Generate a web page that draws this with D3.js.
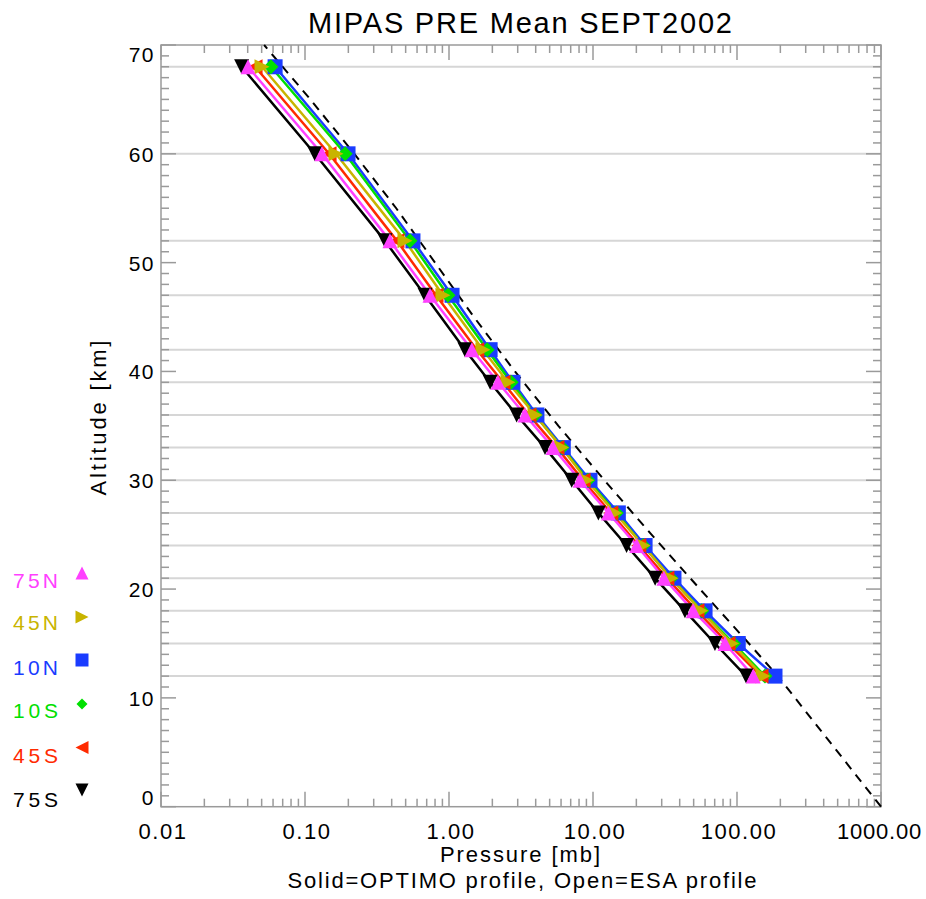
<!DOCTYPE html>
<html><head><meta charset="utf-8">
<script src="https://cdn.jsdelivr.net/npm/d3@7"></script>
<style>body{margin:0;background:#fff;} svg{display:block;font-family:"Liberation Sans",Arial,sans-serif;}</style>
</head><body>
<svg id="c" width="926" height="899"></svg>
<script>
const altitudes = [68, 60, 52, 47, 42, 39, 36, 33, 30, 27, 24, 21, 18, 15, 12];
const p75N = [0.0402, 0.131, 0.389, 0.738, 1.44, 2.19, 3.37, 5.28, 8.13, 12.8, 20.1, 31.1, 49.7, 82.6, 129.7];
const p45N = [0.0503, 0.164, 0.495, 0.908, 1.72, 2.57, 3.96, 6.06, 9.04, 14.2, 22.3, 34.8, 56.2, 91.9, 151.6];
const p10N = [0.062, 0.199, 0.562, 1.05, 1.93, 2.78, 4.08, 6.22, 9.53, 15.0, 23.0, 36.5, 60.0, 102, 183.6];
const p10S = [0.058, 0.19, 0.536, 0.984, 1.84, 2.70, 3.96, 6.1, 9.2, 14.5, 22.3, 34.8, 56.9, 94.5, 156.4];
const p45S = [0.045, 0.147, 0.435, 0.812, 1.56, 2.37, 3.59, 5.62, 8.53, 13.3, 20.8, 32.6, 52.7, 86.7, 146.8];
const p75S = [0.0363, 0.117, 0.359, 0.681, 1.29, 1.93, 2.95, 4.64, 7.11, 10.9, 17.1, 27.0, 43.5, 70.3, 115.6];
const refAlt = [0, 12, 15, 20, 25, 30, 35, 40, 45, 50, 55, 60, 65, 70];
const refPres = [1000, 192, 121, 55.3, 25.5, 12.0, 5.75, 2.87, 1.49, 0.80, 0.43, 0.22, 0.109, 0.052];
const xTickLabels = ["0.01", "0.10", "1.00", "10.00", "100.00", "1000.00"];
const xTickValues = [0.01, 0.1, 1, 10, 100, 1000];
const yTickValues = [0, 10, 20, 30, 40, 50, 60, 70];
const seriesNames = ["75N", "45N", "10N", "10S", "45S", "75S"];

const series = [
  {name: "10N", vals: p10N, color: "#1a3cff", sym: "square"},
  {name: "10S", vals: p10S, color: "#00e000", sym: "diamond"},
  {name: "45S", vals: p45S, color: "#ff2a00", sym: "left"},
  {name: "75S", vals: p75S, color: "#000000", sym: "down"},
  {name: "45N", vals: p45N, color: "#c8b400", sym: "right"},
  {name: "75N", vals: p75N, color: "#ff40ff", sym: "up"}
];
const colorOf = {"75N":"#ff40ff","45N":"#c8b400","10N":"#1a3cff","10S":"#00e000","45S":"#ff2a00","75S":"#000000"};
const symOf = {"75N":"up","45N":"right","10N":"square","10S":"diamond","45S":"left","75S":"down"};

const svg = d3.select("#c");
const L = 161, R = 881, T = 45, B = 806.7;
const x = d3.scaleLog().domain([0.01, 1000]).range([L, R]);
const y = d3.scaleLinear().domain([0, 70]).range([B, T]);

function symPath(type, s) {
  const h = s / 2;
  switch (type) {
    case "square": return `M${-h},${-h}H${h}V${h}H${-h}Z`;
    case "diamond": return `M0,${-h}L${h},0L0,${h}L${-h},0Z`;
    case "up": return `M0,${-h}L${h},${h}L${-h},${h}Z`;
    case "down": return `M0,${h}L${h},${-h}L${-h},${-h}Z`;
    case "right": return `M${h},0L${-h},${-h}L${-h},${h}Z`;
    case "left": return `M${-h},0L${h},${-h}L${h},${h}Z`;
  }
}

// grid lines at profile levels
svg.append("g").selectAll("line").data(altitudes).join("line")
  .attr("x1", L).attr("x2", R).attr("y1", d => y(d)).attr("y2", d => y(d))
  .attr("stroke", "#d6d6d6").attr("stroke-width", 2);

// axes frame
const axisColor = "#9a9a9a";
svg.append("rect").attr("x", L).attr("y", T).attr("width", R - L).attr("height", B - T)
  .attr("fill", "none").attr("stroke", axisColor).attr("stroke-width", 1.5);

// x ticks (bottom + top)
const xMinor = [];
for (let e = -2; e < 3; e++) for (let m = 2; m <= 9; m++) xMinor.push(m * Math.pow(10, e));
const gx = svg.append("g");
[["b", B, -1], ["t", T, 1]].forEach(([k, base, dir]) => {
  gx.append("g").selectAll("line").data(xTickValues).join("line")
    .attr("x1", d => x(d)).attr("x2", d => x(d)).attr("y1", base).attr("y2", base + dir * 15)
    .attr("stroke", axisColor).attr("stroke-width", 1.5);
  gx.append("g").selectAll("line").data(xMinor).join("line")
    .attr("x1", d => x(d)).attr("x2", d => x(d)).attr("y1", base).attr("y2", base + dir * 8)
    .attr("stroke", axisColor).attr("stroke-width", 1.5);
});
gx.append("g").selectAll("text").data(xTickValues).join("text")
  .attr("x", (d, i) => i === xTickValues.length - 1 ? 922 : x(d) + 2).attr("y", 839)
  .attr("text-anchor", (d, i) => i === xTickValues.length - 1 ? "end" : "middle")
  .attr("font-size", 22).attr("letter-spacing", (d, i) => i === xTickValues.length - 1 ? 0.8 : 1.5)
  .attr("fill", "#000").text((d, i) => xTickLabels[i]);

// y ticks (left + right)
const yMinor = d3.range(0, 71).filter(v => v % 10 !== 0);
const gy = svg.append("g");
[[L, 1], [R, -1]].forEach(([base, dir]) => {
  gy.append("g").selectAll("line").data(yTickValues).join("line")
    .attr("x1", base).attr("x2", base + dir * 15).attr("y1", d => y(d)).attr("y2", d => y(d))
    .attr("stroke", axisColor).attr("stroke-width", 1.5);
  gy.append("g").selectAll("line").data(yMinor).join("line")
    .attr("x1", base).attr("x2", base + dir * 8).attr("y1", d => y(d)).attr("y2", d => y(d))
    .attr("stroke", axisColor).attr("stroke-width", 1.5);
});
gy.append("g").selectAll("text").data(yTickValues).join("text")
  .attr("x", 155).attr("y", d => d === 0 ? 805 : d === 70 ? 62 : y(d) + 8).attr("text-anchor", "end")
  .attr("font-size", 21).attr("letter-spacing", 1.5).attr("fill", "#000").text(d => d);

// reference dashed profile
const refLine = d3.line().x(d => x(d[1])).y(d => y(d[0]));
svg.append("path").datum(refAlt.map((a, i) => [a, refPres[i]]))
  .attr("d", refLine).attr("fill", "none").attr("stroke", "#000")
  .attr("stroke-width", 2).attr("stroke-dasharray", "9,7");

// series
const line = d3.line().x(d => x(d[1])).y(d => y(d[0]));
series.forEach(s => {
  const pts = altitudes.map((a, i) => [a, s.vals[i]]);
  svg.append("path").datum(pts).attr("d", line).attr("fill", "none")
    .attr("stroke", s.color).attr("stroke-width", 2.5);
});
series.forEach(s => {
  const pts = altitudes.map((a, i) => [a, s.vals[i]]);
  svg.append("g").selectAll("path").data(pts).join("path")
    .attr("transform", d => `translate(${x(d[1])},${y(d[0])})`)
    .attr("d", symPath(s.sym, 15)).attr("fill", s.color);
});

// titles
svg.append("text").attr("x", 520).attr("y", 33).attr("text-anchor", "middle")
  .attr("font-size", 29).attr("textLength", 424).attr("lengthAdjust", "spacing")
  .attr("fill", "#000").text("MIPAS PRE Mean SEPT2002");
svg.append("text").attr("x", 520).attr("y", 862).attr("text-anchor", "middle")
  .attr("font-size", 22).attr("textLength", 160).attr("lengthAdjust", "spacing")
  .attr("fill", "#000").text("Pressure [mb]");
svg.append("text").attr("x", 522).attr("y", 888).attr("text-anchor", "middle")
  .attr("font-size", 22).attr("textLength", 469).attr("lengthAdjust", "spacing")
  .attr("fill", "#000").text("Solid=OPTIMO profile, Open=ESA profile");
svg.append("text").attr("transform", "translate(106,418) rotate(-90)").attr("text-anchor", "middle")
  .attr("font-size", 22).attr("textLength", 155).attr("lengthAdjust", "spacing")
  .attr("fill", "#000").text("Altitude [km]");

// legend
const legY = [588, 630, 675, 718, 763, 807];
const legMarkY = [573, 617, 660, 704, 747.5, 790];
seriesNames.forEach((n, i) => {
  svg.append("text").attr("x", 13).attr("y", legY[i]).attr("font-size", 21)
    .attr("textLength", 45).attr("lengthAdjust", "spacing")
    .attr("fill", colorOf[n]).text(n);
  svg.append("path").attr("transform", `translate(82,${legMarkY[i]})`)
    .attr("d", symPath(symOf[n], n === "10S" ? 11 : 13)).attr("fill", colorOf[n]);
});
</script>
</body></html>
